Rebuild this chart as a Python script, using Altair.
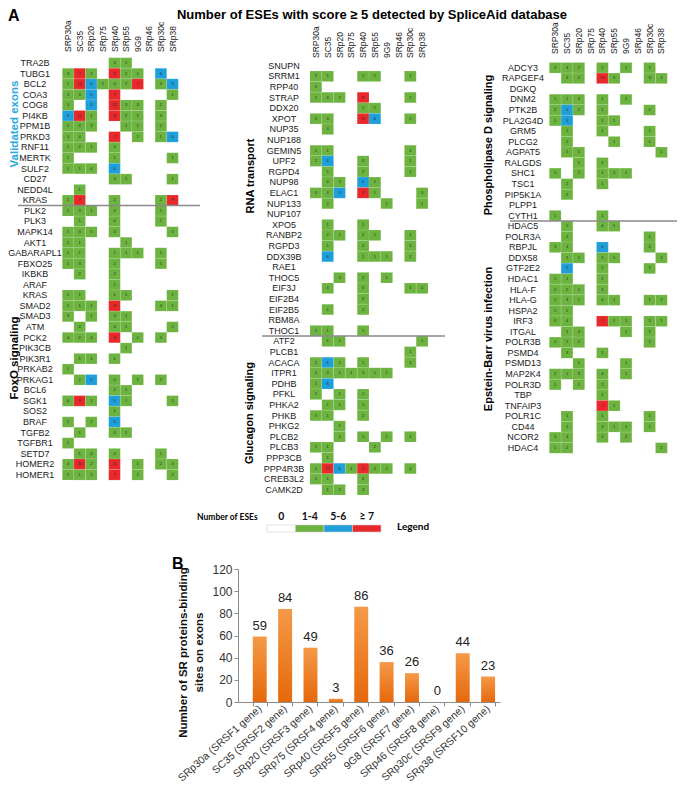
import altair as alt
import pandas as pd

# ---------------- data ----------------
COLS = ["SRP30a", "SC35", "SRp20", "SRp75", "SRp40", "SRp55", "9G9", "SRp46", "SRp30c", "SRp38"]

P1_GENES = ["TRA2B", "TUBG1", "BCL2", "COA3", "COG8", "PI4KB", "PPM1B", "PRKD3", "RNF11", "MERTK",
            "SULF2", "CD27", "NEDD4L", "KRAS",
            "PLK2", "PLK3", "MAPK14", "AKT1", "GABARAPL1", "FBXO25", "IKBKB", "ARAF", "KRAS", "SMAD2",
            "SMAD3", "ATM", "PCK2", "PIK3CB", "PIK3R1", "PRKAB2", "PRKAG1", "BCL6", "SGK1", "SOS2",
            "BRAF", "TGFB2", "TGFBR1", "SETD7", "HOMER2", "HOMER1"]
P1_VALUES = [
    [0, 0, 0, 0, 3, 1, 0, 0, 0, 0], [3, 7, 2, 0, 9, 2, 1, 0, 6, 0], [1, 10, 6, 1, 4, 2, 7, 0, 4, 5],
    [3, 3, 5, 0, 7, 0, 0, 0, 0, 1], [3, 0, 5, 0, 12, 3, 3, 0, 2, 0], [6, 11, 1, 0, 8, 2, 1, 0, 3, 0],
    [2, 3, 3, 0, 0, 1, 2, 0, 1, 0], [3, 4, 0, 0, 7, 0, 2, 0, 1, 6], [1, 2, 1, 0, 4, 0, 0, 0, 0, 0],
    [1, 0, 0, 0, 1, 0, 0, 0, 0, 1], [1, 1, 4, 0, 6, 0, 0, 0, 0, 0], [0, 0, 0, 0, 3, 2, 0, 0, 0, 1],
    [0, 1, 0, 0, 0, 0, 0, 0, 0, 0], [2, 7, 0, 0, 2, 0, 0, 0, 2, 9],
    [1, 3, 1, 0, 2, 0, 0, 0, 1, 0], [0, 1, 0, 0, 4, 0, 0, 0, 2, 0], [1, 3, 1, 0, 4, 0, 0, 0, 0, 1],
    [1, 1, 0, 0, 0, 1, 0, 0, 0, 0], [1, 1, 0, 0, 1, 1, 1, 0, 1, 0], [2, 3, 0, 0, 2, 0, 0, 0, 1, 0],
    [0, 2, 0, 0, 2, 0, 0, 0, 0, 0], [0, 0, 0, 0, 1, 0, 0, 0, 0, 0], [1, 1, 0, 0, 1, 1, 0, 0, 0, 1],
    [1, 1, 1, 0, 8, 0, 0, 0, 4, 1], [3, 0, 1, 0, 3, 1, 0, 0, 0, 0], [0, 4, 0, 0, 3, 1, 0, 0, 0, 2],
    [4, 2, 4, 0, 8, 0, 1, 0, 3, 0], [0, 0, 0, 0, 0, 1, 0, 0, 0, 0], [0, 1, 1, 0, 1, 0, 0, 0, 0, 0],
    [1, 0, 0, 0, 0, 0, 0, 0, 0, 0], [0, 2, 5, 0, 4, 0, 1, 0, 2, 0], [0, 0, 0, 0, 2, 1, 0, 0, 0, 0],
    [4, 9, 1, 0, 5, 1, 0, 0, 0, 2], [0, 0, 0, 0, 1, 0, 0, 0, 0, 0], [2, 0, 2, 0, 6, 0, 0, 0, 0, 0],
    [0, 1, 0, 0, 4, 1, 0, 0, 0, 0], [1, 0, 0, 0, 0, 0, 0, 0, 0, 0], [0, 1, 4, 0, 4, 0, 0, 0, 1, 0],
    [4, 10, 2, 0, 11, 0, 1, 0, 2, 4], [2, 1, 2, 0, 7, 0, 2, 0, 0, 2],
]

P2_GENES = ["SNUPN", "SRRM1", "RPP40", "STRAP", "DDX20", "XPOT", "NUP35", "NUP188", "GEMIN5", "UPF2",
            "RGPD4", "NUP98", "ELAC1", "NUP133", "NUP107", "XPO5", "RANBP2", "RGPD3", "DDX39B", "RAE1",
            "THOC5", "EIF3J", "EIF2B4", "EIF2B5", "RBM8A", "THOC1",
            "ATF2", "PLCB1", "ACACA", "ITPR1", "PDHB", "PFKL", "PHKA2", "PHKB", "PHKG2", "PLCB2",
            "PLCB3", "PPP3CB", "PPP4R3B", "CREB3L2", "CAMK2D"]
P2_VALUES = [
    [0, 0, 0, 0, 0, 0, 0, 0, 0, 0], [2, 1, 0, 0, 1, 1, 0, 0, 1, 0], [3, 0, 0, 0, 0, 0, 0, 0, 0, 0],
    [1, 4, 2, 0, 8, 0, 0, 0, 2, 0], [0, 0, 0, 0, 1, 1, 0, 0, 0, 0], [2, 4, 0, 0, 11, 6, 0, 0, 2, 0],
    [0, 3, 0, 0, 0, 0, 0, 0, 0, 0], [0, 0, 0, 0, 0, 0, 0, 0, 0, 0], [1, 1, 0, 0, 0, 0, 0, 0, 1, 0],
    [2, 6, 0, 0, 3, 0, 0, 0, 1, 0], [0, 1, 0, 0, 2, 0, 0, 0, 1, 0], [0, 4, 3, 0, 6, 1, 0, 0, 0, 0],
    [3, 4, 5, 0, 8, 1, 0, 0, 0, 3], [0, 2, 0, 0, 0, 0, 1, 0, 0, 1], [0, 0, 0, 0, 0, 0, 0, 0, 0, 0],
    [0, 1, 0, 0, 1, 0, 0, 0, 0, 0], [0, 2, 1, 0, 2, 1, 0, 0, 1, 0], [0, 1, 0, 0, 2, 0, 0, 0, 1, 0],
    [0, 6, 0, 0, 1, 1, 1, 0, 2, 0], [0, 0, 0, 0, 0, 0, 0, 0, 0, 0], [0, 0, 3, 0, 2, 0, 1, 0, 0, 0],
    [0, 4, 0, 0, 3, 0, 0, 0, 1, 4], [0, 0, 0, 0, 2, 0, 0, 0, 0, 0], [0, 1, 0, 0, 1, 0, 0, 0, 0, 0],
    [0, 0, 0, 0, 0, 0, 0, 0, 0, 0], [1, 1, 0, 0, 1, 0, 0, 0, 0, 0],
    [0, 1, 2, 0, 0, 0, 0, 0, 0, 1], [0, 0, 0, 0, 0, 0, 0, 0, 1, 0], [2, 6, 2, 0, 1, 0, 0, 0, 1, 0],
    [2, 3, 1, 1, 3, 1, 1, 0, 0, 0], [1, 6, 0, 0, 0, 0, 0, 0, 0, 0], [1, 0, 1, 0, 1, 0, 0, 0, 0, 0],
    [0, 1, 1, 0, 1, 0, 0, 0, 0, 0], [3, 1, 0, 0, 2, 0, 0, 0, 0, 0], [0, 0, 1, 0, 0, 0, 0, 0, 0, 0],
    [0, 0, 4, 0, 1, 0, 1, 0, 1, 0], [1, 1, 0, 0, 0, 2, 0, 0, 0, 0], [0, 1, 0, 0, 0, 0, 0, 0, 0, 0],
    [1, 12, 6, 1, 9, 2, 2, 0, 4, 0], [1, 1, 0, 0, 4, 0, 0, 0, 0, 0], [0, 1, 2, 0, 3, 0, 0, 0, 0, 0],
]

P3_GENES = ["ADCY3", "RAPGEF4", "DGKQ", "DNM2", "PTK2B", "PLA2G4D", "GRM5", "PLCG2", "AGPAT5", "RALGDS",
            "SHC1", "TSC1", "PIP5K1A", "PLPP1", "CYTH1",
            "HDAC5", "POLR3A", "RBPJL", "DDX58", "GTF2E2", "HDAC1", "HLA-F", "HLA-G", "HSPA2", "IRF3",
            "ITGAL", "POLR3B", "PSMD4", "PSMD13", "MAP2K4", "POLR3D", "TBP", "TNFAIP3", "POLR1C", "CD44",
            "NCOR2", "HDAC4"]
P3_VALUES = [
    [3, 4, 2, 0, 2, 0, 1, 0, 1, 0], [0, 3, 2, 0, 10, 3, 0, 0, 3, 3], [0, 0, 0, 0, 0, 0, 0, 0, 0, 0],
    [1, 1, 3, 0, 1, 0, 2, 0, 0, 0], [2, 5, 2, 0, 1, 0, 0, 0, 2, 0], [1, 5, 0, 0, 1, 1, 0, 0, 0, 0],
    [0, 2, 0, 0, 1, 0, 0, 0, 1, 0], [0, 2, 0, 0, 0, 1, 0, 0, 1, 0], [0, 1, 1, 0, 0, 0, 0, 0, 0, 1],
    [0, 0, 1, 0, 1, 0, 0, 0, 0, 0], [1, 0, 2, 0, 1, 2, 1, 0, 0, 0], [0, 2, 0, 0, 1, 0, 0, 0, 0, 0],
    [0, 2, 0, 0, 0, 0, 0, 0, 0, 0], [0, 0, 0, 0, 0, 0, 0, 0, 0, 0], [1, 0, 0, 0, 1, 0, 0, 0, 0, 0],
    [0, 2, 0, 0, 4, 1, 0, 0, 0, 0], [0, 2, 0, 0, 0, 0, 0, 0, 1, 0], [3, 3, 0, 0, 6, 0, 0, 0, 2, 0],
    [0, 1, 1, 0, 2, 1, 0, 0, 0, 1], [0, 5, 0, 0, 2, 0, 0, 0, 1, 0], [1, 1, 0, 0, 2, 0, 0, 0, 0, 0],
    [2, 2, 1, 0, 3, 0, 0, 0, 0, 0], [1, 3, 1, 0, 4, 1, 0, 0, 1, 2], [1, 2, 0, 0, 0, 0, 0, 0, 0, 0],
    [3, 4, 0, 0, 7, 1, 1, 0, 3, 1], [0, 1, 4, 0, 0, 0, 1, 0, 2, 0], [1, 2, 2, 0, 0, 0, 0, 0, 2, 0],
    [0, 3, 0, 0, 1, 0, 0, 0, 0, 0], [0, 0, 1, 0, 0, 0, 1, 0, 0, 0], [2, 1, 3, 0, 4, 0, 1, 0, 0, 0],
    [1, 0, 1, 0, 2, 0, 0, 0, 0, 0], [0, 0, 0, 0, 1, 0, 0, 0, 0, 0], [0, 0, 0, 0, 7, 1, 0, 0, 0, 0],
    [0, 1, 0, 0, 1, 0, 0, 0, 1, 0], [0, 1, 0, 0, 3, 1, 1, 0, 1, 0], [3, 3, 0, 0, 3, 0, 2, 0, 0, 0],
    [1, 2, 0, 0, 0, 0, 0, 0, 0, 2],
]

BAR_LABELS = ["SRp30a (SRSF1 gene)", "SC35  (SRSF2 gene)", "SRp20  (SRSF3 gene)", "SRp75   (SRSF4 gene)",
              "SRp40  (SRSF5 gene)", "SRp55  (SRSF6 gene)", "9G8  (SRSF7 gene)", "SRp46  (SRSF8 gene)",
              "SRp30c  (SRSF9 gene)", "SRp38  (SRSF10 gene)"]
BAR_VALUES = [59, 84, 49, 3, 86, 36, 26, 0, 44, 23]

CAT_DOMAIN = ["0", "1-4", "5-6", "≥ 7"]
CAT_COLORS = ["#ffffff", "#6CB33F", "#1E9FDA", "#E8282B"]

TITLE = "Number of ESEs with score ≥ 5  detected by SpliceAid  database"

# ---------------- layout helpers ----------------
M = 8            # page margin
W, H = 669, 778
FONT = "Liberation Sans, Arial, Helvetica, sans-serif"
NARROW = "Liberation Sans Narrow, Arial Narrow, Liberation Sans, sans-serif"
LEGFONT = "Lato, Liberation Sans, sans-serif"

color_scale = alt.Scale(domain=CAT_DOMAIN, range=CAT_COLORS)


def category(v):
    if v == 0:
        return "0"
    if v <= 4:
        return "1-4"
    if v <= 6:
        return "5-6"
    return "≥ 7"


def heat_panel(genes, values, x0, x1, y0, row_h, label_cx, col_label_y, sep_row, sep_x0, sep_x1):
    n = len(genes)
    rows = list(range(n))
    cells = pd.DataFrame([
        {"row": i, "col": c, "v": v, "cat": category(v)}
        for i, r in enumerate(values) for c, v in zip(COLS, r) if v > 0
    ])
    xsc = alt.Scale(domain=COLS, range=[x0 - M, x1 - M], paddingInner=0, paddingOuter=0)
    ysc = alt.Scale(domain=rows, range=[y0 - M, y0 - M + n * row_h], paddingInner=0, paddingOuter=0)
    X = alt.X("col:N", scale=xsc, axis=None)
    Y = alt.Y("row:O", scale=ysc, axis=None)

    rect = alt.Chart(cells).mark_rect(stroke="#ffffff", strokeWidth=0.25, strokeOpacity=0.5).encode(
        x=X, y=Y, color=alt.Color("cat:N", scale=color_scale, legend=None))
    nums = alt.Chart(cells).mark_text(fontSize=4, color="#2a2a2a", font=FONT).encode(
        x=X, y=Y, text="v:Q")
    glab = alt.Chart(pd.DataFrame({"row": rows, "gene": genes})).mark_text(
        fontSize=9, font=FONT, align="center", baseline="middle", color="#1a1a1a").encode(
        y=Y, x=alt.value(label_cx - M), text="gene:N")
    clab = alt.Chart(pd.DataFrame({"col": COLS})).mark_text(
        fontSize=8.5, font=NARROW, angle=270, align="left", baseline="middle", color="#1a1a1a").encode(
        x=X, y=alt.value(col_label_y - M), text="col:N")
    sep = alt.Chart(pd.DataFrame({"row": [sep_row]})).mark_rule(color="#8a8a8a", strokeWidth=1.5).encode(
        y=alt.Y("row:O", scale=ysc, axis=None, bandPosition=0),
        x=alt.value(sep_x0 - M), x2=alt.value(sep_x1 - M))
    return alt.layer(rect, nums, glab, clab, sep)


def label(text, x, y, size, color="#000000", angle=0, align="center", baseline="middle",
          weight="bold", font=FONT):
    return alt.Chart(pd.DataFrame({"t": [text]})).mark_text(
        fontSize=size, color=color, angle=angle, align=align, baseline=baseline,
        fontWeight=weight, font=font).encode(
        text="t:N", x=alt.value(x - M), y=alt.value(y - M))


p1 = heat_panel(P1_GENES, P1_VALUES, 62.3, 178.3, 57.7, 10.56, 35, 52, 14, 18, 200)
p2 = heat_panel(P2_GENES, P2_VALUES, 310, 428, 60.4, 10.6, 284, 58, 26, 262, 445)
p3 = heat_panel(P3_GENES, P3_VALUES, 549.3, 667.3, 62.5, 10.56, 523, 54, 15, 510, 683)

# ---------------- legend ----------------
ldf = pd.DataFrame({"cat": CAT_DOMAIN})
lx = alt.X("cat:N", scale=alt.Scale(domain=CAT_DOMAIN, range=[267 - M, 381 - M],
                                      paddingInner=0, paddingOuter=0), axis=None)
leg_rect = alt.Chart(ldf).mark_rect(stroke="#cfcfcf", strokeWidth=0.6).encode(
    x=lx, y=alt.value(525 - M), y2=alt.value(532 - M),
    color=alt.Color("cat:N", scale=color_scale, legend=None))
leg_text = alt.Chart(ldf).mark_text(fontSize=10.5, fontWeight="bold", font=LEGFONT,
                                    baseline="middle", color="#111").encode(
    x=lx, y=alt.value(517 - M), text="cat:N")
legend = alt.layer(leg_rect, leg_text)

# ---------------- bar chart ----------------
bdf = pd.DataFrame({"sr": BAR_LABELS, "n": BAR_VALUES})
bx = alt.X("sr:N", scale=alt.Scale(domain=BAR_LABELS, range=[238 - M, 500 - M], paddingInner=0.45,
                                     paddingOuter=0.388, align=0.75),
           axis=alt.Axis(orient="bottom", offset=(702 - M) - H, labelAngle=-42, labelAlign="right",
                         labelBaseline="middle", labelFont=FONT, labelFontSize=10.5, labelColor="#333",
                         labelOverlap=False, labelPadding=1, labelLimit=300, tickBand="extent",
                         tickSize=4, domainColor="#8c8c8c", tickColor="#8c8c8c", title=None))
by = alt.Y("n:Q", scale=alt.Scale(domain=[0, 120], range=[702 - M, 569 - M], nice=False),
           axis=alt.Axis(orient="left", offset=-(238 - M), values=[0, 20, 40, 60, 80, 100, 120],
                         grid=False, domainColor="#8c8c8c", tickColor="#8c8c8c", tickSize=4,
                         labelFont=FONT, labelFontSize=12, labelColor="#333", labelPadding=2,
                         title=["Number of SR proteins-binding", "sites on exons"], titleFont=FONT,
                         titleFontSize=11.5, titleFontWeight="bold", titleColor="#111",
                         titleX=-55, titleY=652 - M, titleAngle=270, titleAlign="center",
                         titleBaseline="middle", titleLineHeight=16))
grad = alt.Gradient(gradient="linear",
                    stops=[alt.GradientStop(color="#F49A48", offset=0),
                           alt.GradientStop(color="#E6680B", offset=1)],
                    x1=0, x2=0, y1=0, y2=1)
bars = alt.Chart(bdf).mark_bar(color=grad).encode(x=bx, y=by)
bar_text = alt.Chart(bdf).mark_text(fontSize=13, font=FONT, dy=-7, baseline="alphabetic",
                                    color="#222").encode(x=bx, y=by, text="n:Q")
bar_layer = alt.layer(bars, bar_text)

# ---------------- annotations ----------------
annots = [
    label("A", 8, 8, 16, baseline="top", align="left"),
    label(TITLE, 372, 9, 13, baseline="top"),
    label("Validated exons", 15, 124, 11.5, color="#29A9E1", angle=270),
    label("FoxO signaling", 15, 358, 11.5, angle=270),
    label("RNA transport", 251, 176, 11, angle=270),
    label("Glucagon signaling", 250, 413, 11, angle=270),
    label("Phospholipase D signaling", 489, 145, 11, angle=270),
    label("Epstein-Barr virus infection", 489, 339, 11, angle=270),
    label("Number of ESEs", 197, 517, 8.5, align="left", font=LEGFONT),
    label("Legend", 397, 527, 10, align="left", font=LEGFONT),
    label("B", 172, 556, 16, baseline="top", align="left"),
]

chart = alt.layer(p1, p2, p3, legend, bar_layer, *annots).resolve_scale(
    x="independent", y="independent"
).properties(
    width=W, height=H, padding=0, autosize=alt.AutoSizeParams(type="none")
).configure_view(stroke=None)

chart.save("out.html", embed_options={"renderer": "svg", "actions": False})
